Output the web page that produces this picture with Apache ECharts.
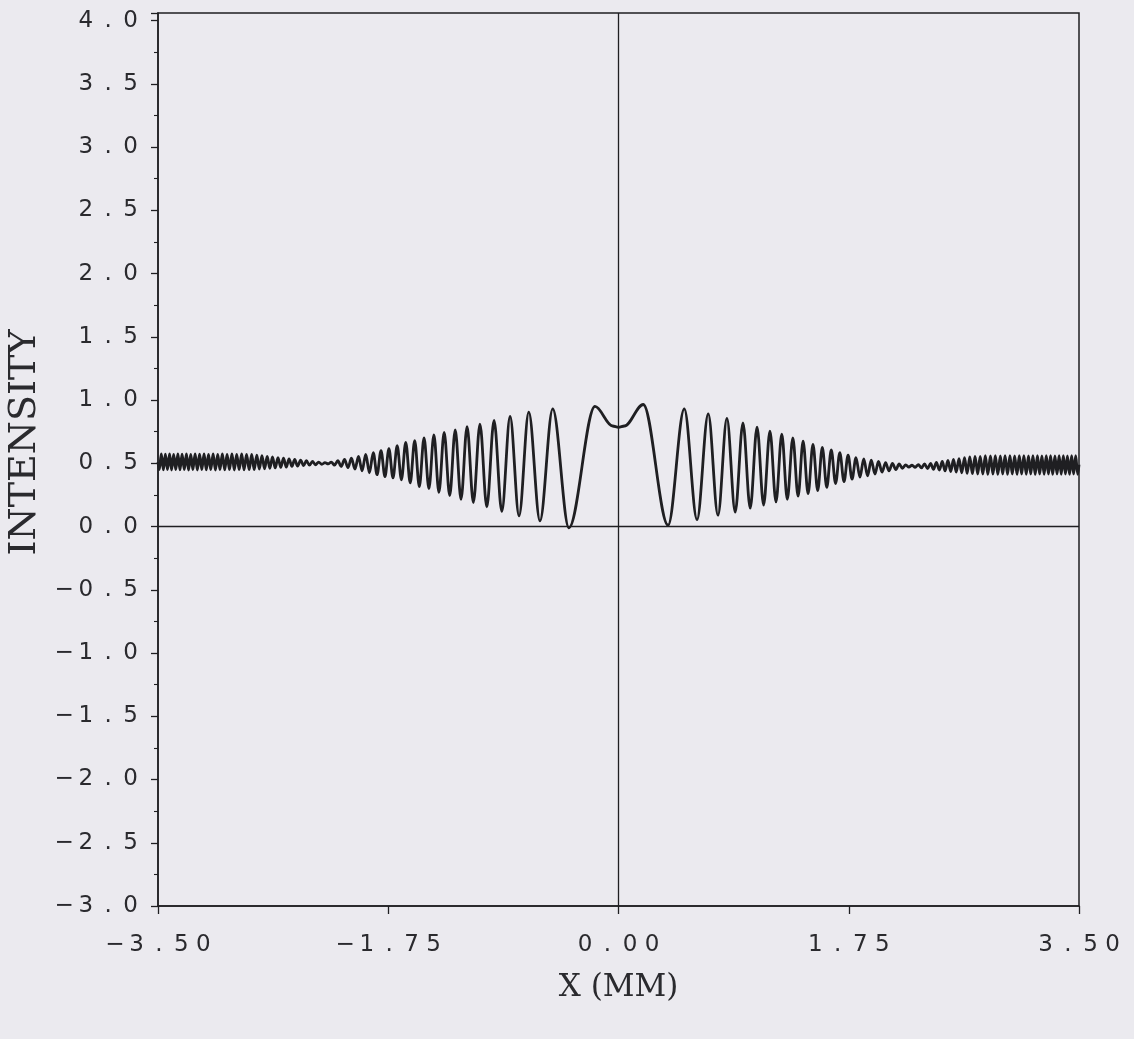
<!DOCTYPE html>
<html>
<head>
<meta charset="utf-8">
<script src="https://cdn.jsdelivr.net/npm/echarts@6.0.0/dist/echarts.min.js"></script>
<style>
  html, body { margin: 0; padding: 0; background: #ebeaef; }
  #chart { width: 1134px; height: 1039px; }
</style>
</head>
<body>
<div id="chart"></div>
<script>
// |x| (mm) of the successive minima / maxima (even index = minimum)
const xExtrema = [
  0.377, 0.500, 0.597, 0.682, 0.756, 0.824, 0.887, 0.946, 1.001, 1.053,
  1.103, 1.151, 1.197, 1.241, 1.283, 1.325, 1.365, 1.403, 1.441, 1.478,
  1.514, 1.549, 1.583, 1.617, 1.650, 1.682, 1.714, 1.745, 1.775, 1.805,
  1.835, 1.864, 1.893, 1.921, 1.949, 1.976, 2.003, 2.030, 2.056, 2.082,
  2.108, 2.133, 2.158, 2.183, 2.207, 2.231, 2.255, 2.279, 2.303, 2.326,
  2.349, 2.372, 2.394, 2.416, 2.439, 2.461, 2.482, 2.504, 2.525, 2.546,
  2.567, 2.588, 2.609, 2.630, 2.650, 2.670, 2.690, 2.710, 2.730, 2.749,
  2.769, 2.788, 2.807, 2.827, 2.846, 2.864, 2.883, 2.902, 2.920, 2.938,
  2.957, 2.975, 2.993, 3.011, 3.029, 3.046, 3.064, 3.081, 3.099, 3.116,
  3.133, 3.150, 3.167, 3.184, 3.201, 3.218, 3.235, 3.251, 3.268, 3.284,
  3.300, 3.317, 3.333, 3.349, 3.365, 3.381, 3.397, 3.412, 3.428, 3.444,
  3.459, 3.475, 3.490
];

// intensity at -xExtrema
const leftIntensity = [
  -0.01, 0.93, 0.045, 0.905, 0.085, 0.87, 0.12, 0.84, 0.155, 0.81,
  0.19, 0.79, 0.215, 0.765, 0.245, 0.745, 0.27, 0.725, 0.30, 0.70,
  0.315, 0.68, 0.345, 0.665, 0.37, 0.64, 0.385, 0.615, 0.395, 0.60,
  0.41, 0.585, 0.425, 0.57, 0.44, 0.555, 0.455, 0.54, 0.465, 0.53,
  0.475, 0.52, 0.485, 0.51, 0.495, 0.505, 0.492, 0.51, 0.488, 0.515,
  0.485, 0.52, 0.482, 0.525, 0.478, 0.53, 0.475, 0.535, 0.47, 0.54,
  0.467, 0.545, 0.463, 0.55, 0.46, 0.555, 0.457, 0.56, 0.454, 0.565,
  0.45, 0.57, 0.45, 0.57, 0.448, 0.575, 0.45, 0.57, 0.447, 0.575,
  0.45, 0.57, 0.448, 0.575, 0.45, 0.57, 0.446, 0.575, 0.45, 0.57,
  0.448, 0.575, 0.45, 0.572, 0.447, 0.575, 0.45, 0.57, 0.446, 0.575,
  0.45, 0.572, 0.448, 0.575, 0.45, 0.57, 0.447, 0.575, 0.45, 0.572,
  0.448, 0.575, 0.45
];

// intensity at +xExtrema
const rightIntensity = [
  0.01, 0.93, 0.055, 0.89, 0.09, 0.855, 0.115, 0.82, 0.145, 0.785,
  0.17, 0.755, 0.195, 0.73, 0.215, 0.70, 0.24, 0.675, 0.26, 0.65,
  0.285, 0.625, 0.31, 0.605, 0.34, 0.585, 0.355, 0.565, 0.375, 0.545,
  0.39, 0.535, 0.40, 0.525, 0.415, 0.515, 0.43, 0.505, 0.44, 0.50,
  0.45, 0.495, 0.46, 0.488, 0.47, 0.485, 0.468, 0.49, 0.463, 0.495,
  0.458, 0.50, 0.452, 0.507, 0.446, 0.515, 0.44, 0.522, 0.435, 0.53,
  0.43, 0.537, 0.425, 0.545, 0.42, 0.55, 0.418, 0.555, 0.415, 0.555,
  0.415, 0.56, 0.413, 0.558, 0.415, 0.56, 0.412, 0.558, 0.415, 0.56,
  0.413, 0.56, 0.415, 0.558, 0.412, 0.56, 0.415, 0.56, 0.413, 0.558,
  0.415, 0.56, 0.412, 0.56, 0.415, 0.558, 0.413, 0.56, 0.415, 0.56,
  0.412, 0.558, 0.415, 0.56, 0.413, 0.56, 0.415, 0.558, 0.412, 0.56,
  0.415, 0.56, 0.413
];

// central double peak
const centerX = [-0.179, -0.045, 0.0, 0.045, 0.188];
const centerIntensity = [0.95, 0.795, 0.785, 0.795, 0.965];

// ends of the trace at x = -3.5 and x = 3.5
const edgeX = [-3.5, 3.5];
const edgeIntensity = [0.51, 0.49];

const xRange = [-3.5, 3.5];
const xStep = 1.75;
const yRange = [-3.0, 4.06];
const yStep = 0.5;

// plotter style numbers: every character in a wide cell
function spaced(v, digits) {
  const chars = Math.abs(v).toFixed(digits).split('');
  let out = chars[0];
  for (let i = 1; i < chars.length; i++) {
    out += (chars[i] === '.' || chars[i - 1] === '.' ? '\u2002' : ' ') + chars[i];
  }
  return (v < -1e-9 ? '\u2212\u2009' : '') + out;
}

const points = [[edgeX[0], edgeIntensity[0]]];
for (let i = xExtrema.length - 1; i >= 0; i--) {
  points.push([-xExtrema[i], leftIntensity[i]]);
}
centerX.forEach((x, i) => points.push([x, centerIntensity[i]]));
xExtrema.forEach((x, i) => points.push([x, rightIntensity[i]]));
points.push([edgeX[1], edgeIntensity[1]]);

const ink = '#1f1f22';
const labelFont = { color: '#2a2a2e', fontFamily: 'DejaVu Sans', fontSize: 23 };

const chart = echarts.init(document.getElementById('chart'));
chart.setOption({
  backgroundColor: '#ebeaef',
  animation: false,
  grid: {
    left: 158,
    right: 55,
    top: 13,
    bottom: 133,
    outerBoundsMode: 'none',
    containLabel: false,
    show: true,
    borderColor: ink,
    borderWidth: 1.5,
    backgroundColor: 'transparent'
  },
  xAxis: {
    type: 'value',
    min: xRange[0],
    max: xRange[1],
    interval: xStep,
    name: 'X (MM)',
    nameLocation: 'middle',
    nameGap: 66,
    nameTextStyle: { color: '#2a2a2e', fontFamily: 'DejaVu Serif', fontSize: 31 },
    axisLine: { show: true, onZero: false, lineStyle: { color: ink, width: 1.5 } },
    axisTick: { show: true, inside: false, length: 8, lineStyle: { color: ink, width: 1.3 } },
    axisLabel: Object.assign({ margin: 28, formatter: v => spaced(v, 2) }, labelFont),
    splitLine: { show: false }
  },
  yAxis: {
    type: 'value',
    min: yRange[0],
    max: yRange[1],
    interval: yStep,
    name: 'INTENSITY',
    nameLocation: 'middle',
    nameRotate: 90,
    nameGap: 110,
    nameTextStyle: {
      color: '#2a2a2e', fontFamily: 'DejaVu Serif', fontSize: 38,
      padding: [0, 0, 0, 34]
    },
    axisLine: { show: true, onZero: false, lineStyle: { color: ink, width: 1.5 } },
    axisTick: { show: true, inside: false, length: 7, lineStyle: { color: ink, width: 1.3 } },
    minorTick: { show: true, splitNumber: 2, length: 4, lineStyle: { color: ink, width: 1.1 } },
    axisLabel: Object.assign({
      margin: 20,
      formatter: v => (Math.abs(v / yStep - Math.round(v / yStep)) > 1e-6 ? '' : spaced(v, 1))
    }, labelFont),
    splitLine: { show: false }
  },
  series: [{
    type: 'line',
    data: points,
    showSymbol: false,
    smooth: 0.34,
    smoothMonotone: 'x',
    sampling: null,
    lineStyle: { color: ink, width: 2.8 },
    markLine: {
      silent: true,
      symbol: ['none', 'none'],
      label: { show: false },
      lineStyle: { color: ink, width: 1.3, type: 'solid' },
      data: [{ xAxis: 0 }, { yAxis: 0 }]
    }
  }]
});
</script>
</body>
</html>
